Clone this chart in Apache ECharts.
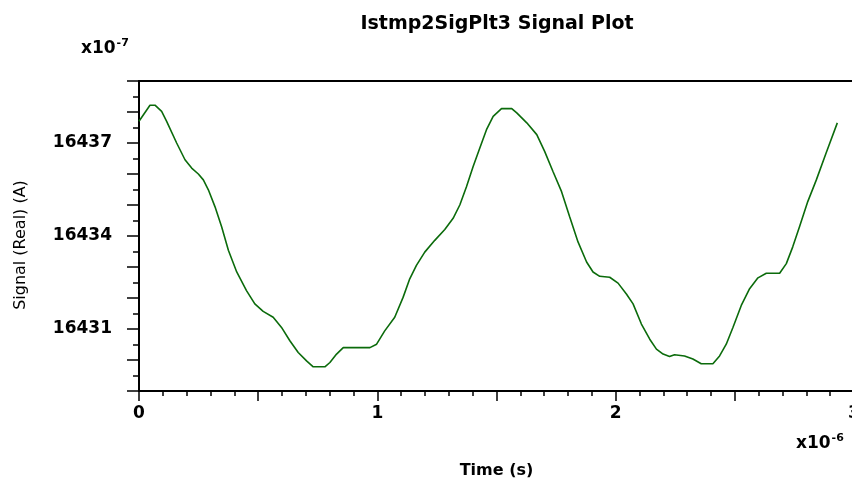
<!DOCTYPE html>
<html>
<head>
<meta charset="utf-8">
<script src="https://cdn.jsdelivr.net/npm/echarts@6/dist/echarts.min.js"></script>
<style>
html,body{margin:0;padding:0;background:#fff;}
#chart{width:852px;height:493px;}
</style>
</head>
<body>
<div id="chart"></div>
<script>
// Time in units of 1e-6 s
const timeValues = [0, 0.046, 0.067, 0.095, 0.116, 0.158, 0.193, 0.221, 0.249, 0.270, 0.291, 0.319, 0.347, 0.375, 0.410, 0.451, 0.486, 0.521, 0.563, 0.598, 0.633, 0.668, 0.703, 0.731, 0.780, 0.801, 0.829, 0.857, 0.969, 0.997, 1.031, 1.073, 1.108, 1.136, 1.164, 1.199, 1.241, 1.283, 1.318, 1.346, 1.374, 1.402, 1.430, 1.458, 1.486, 1.521, 1.564, 1.585, 1.627, 1.669, 1.702, 1.737, 1.773, 1.807, 1.842, 1.878, 1.905, 1.933, 1.975, 2.010, 2.045, 2.073, 2.108, 2.143, 2.171, 2.199, 2.226, 2.247, 2.289, 2.324, 2.359, 2.408, 2.436, 2.464, 2.492, 2.527, 2.562, 2.597, 2.632, 2.688, 2.716, 2.743, 2.771, 2.806, 2.842, 2.883, 2.930];
// Signal in units of 1e-7 A
const signalValues = [16437.70, 16438.22, 16438.22, 16438.02, 16437.70, 16437.00, 16436.46, 16436.19, 16436.00, 16435.81, 16435.49, 16434.94, 16434.29, 16433.54, 16432.84, 16432.24, 16431.81, 16431.57, 16431.38, 16431.05, 16430.62, 16430.24, 16429.97, 16429.78, 16429.78, 16429.92, 16430.19, 16430.40, 16430.40, 16430.51, 16430.94, 16431.38, 16432.02, 16432.62, 16433.05, 16433.48, 16433.86, 16434.21, 16434.57, 16435.00, 16435.59, 16436.24, 16436.84, 16437.43, 16437.86, 16438.11, 16438.11, 16437.97, 16437.65, 16437.27, 16436.73, 16436.08, 16435.43, 16434.62, 16433.81, 16433.16, 16432.84, 16432.70, 16432.67, 16432.48, 16432.13, 16431.81, 16431.16, 16430.67, 16430.35, 16430.19, 16430.11, 16430.17, 16430.13, 16430.03, 16429.88, 16429.88, 16430.13, 16430.51, 16431.05, 16431.76, 16432.30, 16432.65, 16432.80, 16432.80, 16433.11, 16433.65, 16434.29, 16435.11, 16435.81, 16436.68, 16437.65];
const xTickLabels = [0, 1, 2, 3];
const yTickLabels = [16431, 16434, 16437];
const titleText = 'Istmp2SigPlt3 Signal Plot';
const xName = 'Time (s)';
const yName = 'Signal (Real) (A)';

const chart = echarts.init(document.getElementById('chart'), null, {renderer: 'canvas'});
const font = '"DejaVu Sans", Arial, sans-serif';
const data = timeValues.map((t, i) => [t, signalValues[i]]);

chart.setOption({
  animation: false,
  backgroundColor: '#ffffff',
  title: {
    text: titleText,
    left: 492, top: 10, textAlign: 'center',
    textStyle: {fontFamily: font, fontWeight: 'bold', fontSize: 19, color: '#000'}
  },
  grid: {left: 139, width: 715, top: 81, bottom: 102, containLabel: false, outerBoundsMode: 'none'},
  xAxis: [{
    type: 'value', min: 0, max: 3, interval: 0.5,
    name: xName, nameLocation: 'middle', nameGap: 72,
    nameTextStyle: {fontFamily: font, fontWeight: 'bold', fontSize: 16, color: '#000'},
    axisLine: {show: true, onZero: false, lineStyle: {color: '#000', width: 2}},
    axisTick: {show: true, inside: false, length: 10, lineStyle: {color: '#000', width: 1.5}},
    minorTick: {show: true, splitNumber: 5, length: 5, lineStyle: {color: '#000', width: 1.5}},
    splitLine: {show: false},
    axisLabel: {
      margin: 14, fontFamily: font, fontWeight: 'bold', fontSize: 17, color: '#000',
      formatter: v => xTickLabels.indexOf(Math.round(v * 1000) / 1000) >= 0 ? String(v) : ''
    }
  }, {
    type: 'value', position: 'top', min: 0, max: 3,
    axisLine: {show: true, onZero: false, lineStyle: {color: '#000', width: 2}},
    axisTick: {show: false}, axisLabel: {show: false}, splitLine: {show: false}
  }],
  yAxis: {
    type: 'value', min: 16429, max: 16439, interval: 1,
    axisLine: {show: true, onZero: false, lineStyle: {color: '#000', width: 2}},
    axisTick: {show: true, inside: false, length: 12, lineStyle: {color: '#000', width: 1.5}},
    minorTick: {show: true, splitNumber: 2, length: 6, lineStyle: {color: '#000', width: 1.5}},
    splitLine: {show: false},
    axisLabel: {
      margin: 27, fontFamily: font, fontWeight: 'bold', fontSize: 17, color: '#000',
      formatter: v => yTickLabels.indexOf(Math.round(v)) >= 0 && Math.abs(v - Math.round(v)) < 1e-6 ? String(v) : ''
    }
  },
  graphic: [
    {type: 'text', x: 21, y: 245, rotation: Math.PI / 2, style: {
      text: yName, align: 'center', verticalAlign: 'middle',
      font: '16px ' + font, fill: '#000'
    }},
    {type: 'text', left: 81, top: 38, style: {
      text: '{a|x10}{b|-7}',
      rich: {a: {fontFamily: font, fontWeight: 'bold', fontSize: 17, fill: '#000', verticalAlign: 'bottom'},
             b: {fontFamily: font, fontWeight: 'bold', fontSize: 11, fill: '#000', verticalAlign: 'top', padding: [0, 0, 8, 1]}}
    }},
    {type: 'text', left: 796, top: 433, style: {
      text: '{a|x10}{b|-6}',
      rich: {a: {fontFamily: font, fontWeight: 'bold', fontSize: 17, fill: '#000', verticalAlign: 'bottom'},
             b: {fontFamily: font, fontWeight: 'bold', fontSize: 11, fill: '#000', verticalAlign: 'top', padding: [0, 0, 8, 1]}}
    }}
  ],
  series: [{
    type: 'line', xAxisIndex: 0, data: data, showSymbol: false, smooth: false,
    lineStyle: {color: '#0b6b0b', width: 1.6}, clip: true
  }]
});
</script>
</body>
</html>
